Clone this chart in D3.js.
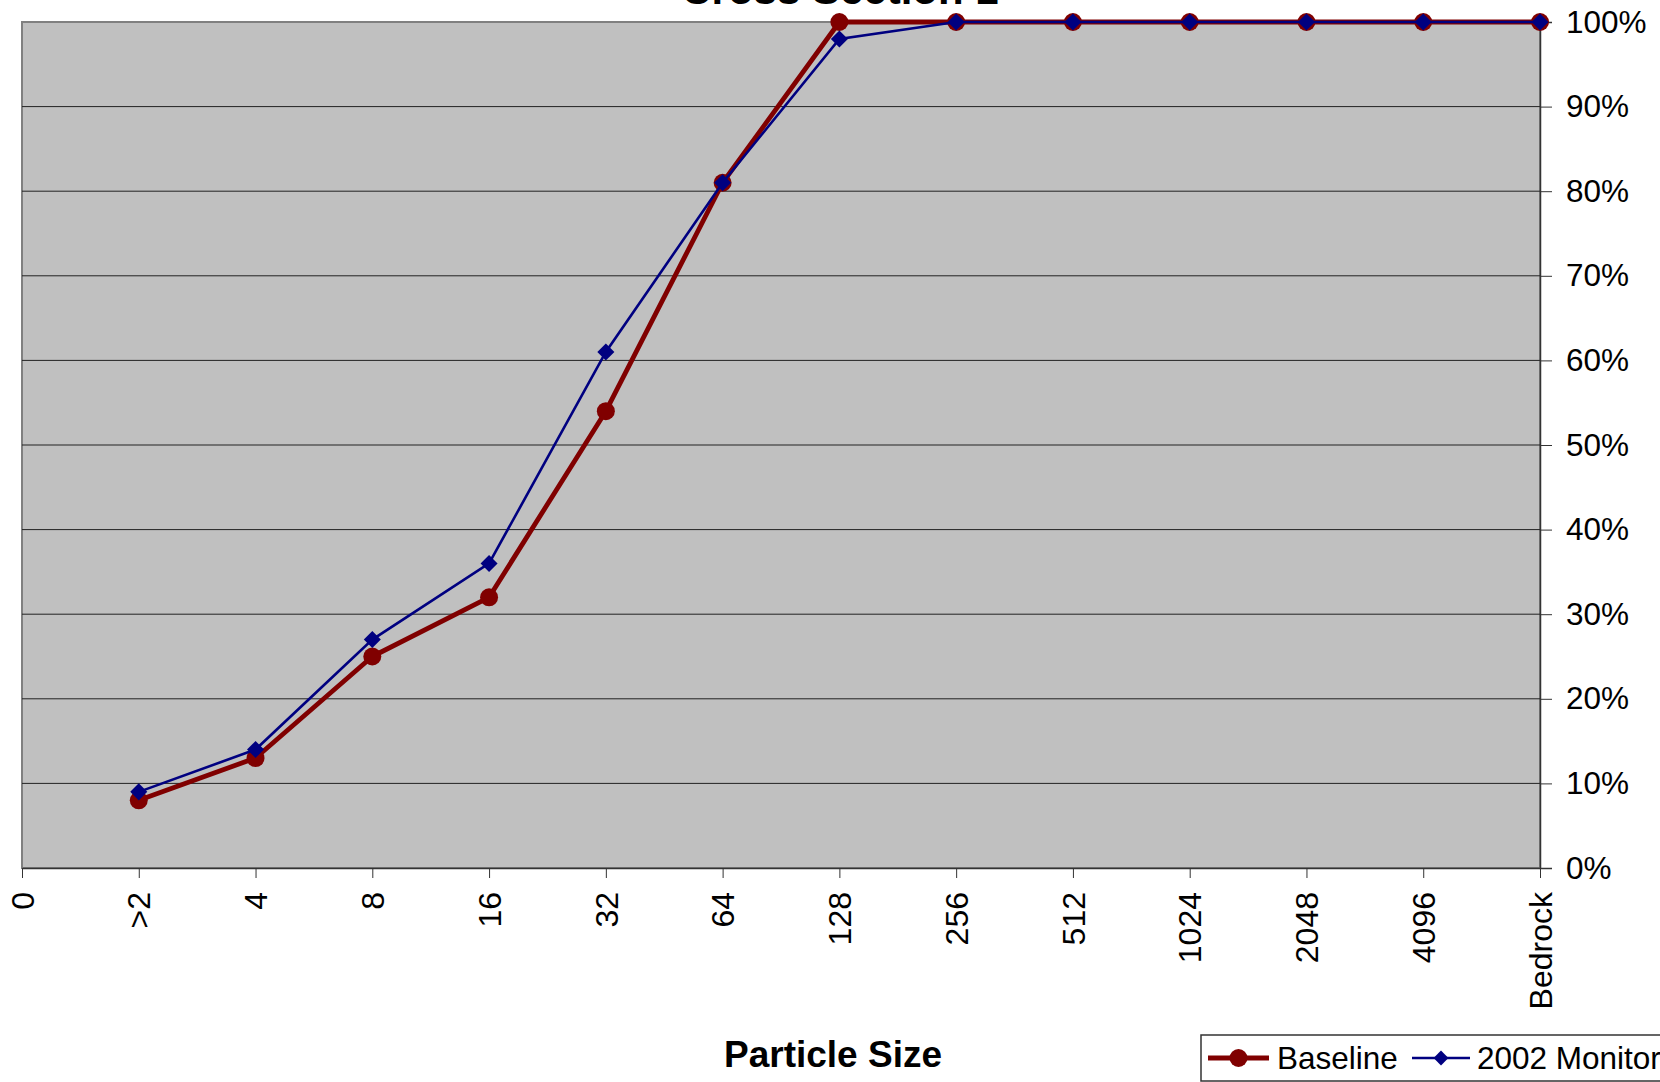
<!DOCTYPE html>
<html>
<head>
<meta charset="utf-8">
<script src="https://cdn.jsdelivr.net/npm/d3@7"></script>
<style>
  body { margin: 0; background: #fff; }
  text { font-family: "Liberation Sans", Arial, sans-serif; fill: #000; }
</style>
</head>
<body>
<div id="chart"></div>
<script>
// data
const categories = ['0', '>2', '4', '8', '16', '32', '64', '128', '256', '512', '1024', '2048', '4096', 'Bedrock'];
const baseline = [null, 8, 13, 25, 32, 54, 81, 100, 100, 100, 100, 100, 100, 100];
const monitor2002 = [null, 9, 14, 27, 36, 61, 81, 98, 100, 100, 100, 100, 100, 100];
const yTicks = [0, 10, 20, 30, 40, 50, 60, 70, 80, 90, 100];
const seriesNames = ['Baseline', '2002 Monitor'];

const W = 1660, H = 1082;
const plot = { left: 22, right: 1540, top: 22, bottom: 868 };

const svg = d3.select('#chart')
  .append('svg')
  .attr('width', W)
  .attr('height', H);

// scales
const x = d3.scalePoint()
  .domain(categories)
  .range([plot.left, plot.right]);
const y = d3.scaleLinear()
  .domain([0, 100])
  .range([plot.bottom, plot.top]);

// plot background
svg.append('rect')
  .attr('x', plot.left)
  .attr('y', plot.top)
  .attr('width', plot.right - plot.left)
  .attr('height', plot.bottom - plot.top)
  .attr('fill', '#c0c0c0')
  .attr('stroke', '#808080')
  .attr('stroke-width', 2);

// gridlines
svg.append('g')
  .selectAll('line')
  .data(yTicks.filter((d) => d > 0 && d < 100))
  .join('line')
  .attr('x1', plot.left)
  .attr('x2', plot.right)
  .attr('y1', (d) => y(d))
  .attr('y2', (d) => y(d))
  .attr('stroke', '#222')
  .attr('stroke-width', 1);

// y axis on the right
const axisY = d3.axisRight(y)
  .tickValues(yTicks)
  .tickSize(12)
  .tickPadding(14)
  .tickFormat((d) => d + '%');
const gY = svg.append('g')
  .attr('transform', `translate(${plot.right},0)`)
  .call(axisY);
gY.select('.domain').attr('stroke', '#333').attr('stroke-width', 1.5);
gY.selectAll('.tick line').attr('stroke', '#333');
gY.selectAll('text')
  .attr('font-size', 31.5)
  .attr('font-family', '"Liberation Sans", Arial, sans-serif')
  .attr('fill', '#000');

// x axis
const axisX = d3.axisBottom(x).tickSize(10).tickSizeOuter(0);
const gX = svg.append('g')
  .attr('transform', `translate(0,${plot.bottom})`)
  .call(axisX);
gX.select('.domain').attr('stroke', '#333').attr('stroke-width', 1.5);
gX.selectAll('.tick line').attr('stroke', '#333');
gX.selectAll('text')
  .attr('font-size', 32)
  .attr('font-family', '"Liberation Sans", Arial, sans-serif')
  .attr('fill', '#000')
  .attr('transform', 'rotate(-90)')
  .attr('text-anchor', 'end')
  .attr('x', -24)
  .attr('y', 0)
  .attr('dy', '0.35em');

// lines
const lineGen = d3.line()
  .x((d) => x(d.c))
  .y((d) => y(d.v));

const baseData = categories.map((c, i) => ({ c: c, v: baseline[i] })).filter((d) => d.v !== null);
const monData = categories.map((c, i) => ({ c: c, v: monitor2002[i] })).filter((d) => d.v !== null);

svg.append('path')
  .datum(baseData)
  .attr('d', lineGen)
  .attr('fill', 'none')
  .attr('stroke', '#800000')
  .attr('stroke-width', 4.8)
  .attr('stroke-linejoin', 'round');
svg.append('g')
  .selectAll('circle')
  .data(baseData)
  .join('circle')
  .attr('cx', (d) => x(d.c))
  .attr('cy', (d) => y(d.v))
  .attr('r', 9)
  .attr('fill', '#800000');

svg.append('path')
  .datum(monData)
  .attr('d', lineGen)
  .attr('fill', 'none')
  .attr('stroke', '#000080')
  .attr('stroke-width', 2.6);
const diamond = d3.symbol().type(d3.symbolDiamond2).size(185);
svg.append('g')
  .selectAll('path')
  .data(monData)
  .join('path')
  .attr('d', diamond)
  .attr('transform', (d) => `translate(${x(d.c)},${y(d.v)})`)
  .attr('fill', '#000080');

// title (cut off at the top, as in the source)
svg.append('text')
  .attr('x', 840)
  .attr('y', 4)
  .attr('text-anchor', 'middle')
  .attr('font-size', 42)
  .attr('font-weight', 'bold')
  .text('Cross Section 1');

// axis title
svg.append('text')
  .attr('x', 833)
  .attr('y', 1067)
  .attr('text-anchor', 'middle')
  .attr('font-size', 37)
  .attr('font-weight', 'bold')
  .text('Particle Size');

// legend
const legend = svg.append('g').attr('transform', 'translate(1201,1035)');
legend.append('rect')
  .attr('x', 0)
  .attr('y', 0)
  .attr('width', 520)
  .attr('height', 46)
  .attr('fill', '#fff')
  .attr('stroke', '#333')
  .attr('stroke-width', 1.5);

// Baseline entry
legend.append('line')
  .attr('x1', 7).attr('x2', 68)
  .attr('y1', 23).attr('y2', 23)
  .attr('stroke', '#800000')
  .attr('stroke-width', 4.8);
legend.append('circle')
  .attr('cx', 37.5).attr('cy', 23)
  .attr('r', 9)
  .attr('fill', '#800000');
legend.append('text')
  .attr('x', 76).attr('y', 34)
  .attr('font-size', 31.5)
  .text(seriesNames[0]);

// 2002 Monitor entry
legend.append('line')
  .attr('x1', 211).attr('x2', 269)
  .attr('y1', 23).attr('y2', 23)
  .attr('stroke', '#000080')
  .attr('stroke-width', 2.6);
legend.append('path')
  .attr('d', d3.symbol().type(d3.symbolDiamond2).size(140))
  .attr('transform', 'translate(240,23)')
  .attr('fill', '#000080');
legend.append('text')
  .attr('x', 276).attr('y', 34)
  .attr('font-size', 31.5)
  .text(seriesNames[1]);
</script>
</body>
</html>
